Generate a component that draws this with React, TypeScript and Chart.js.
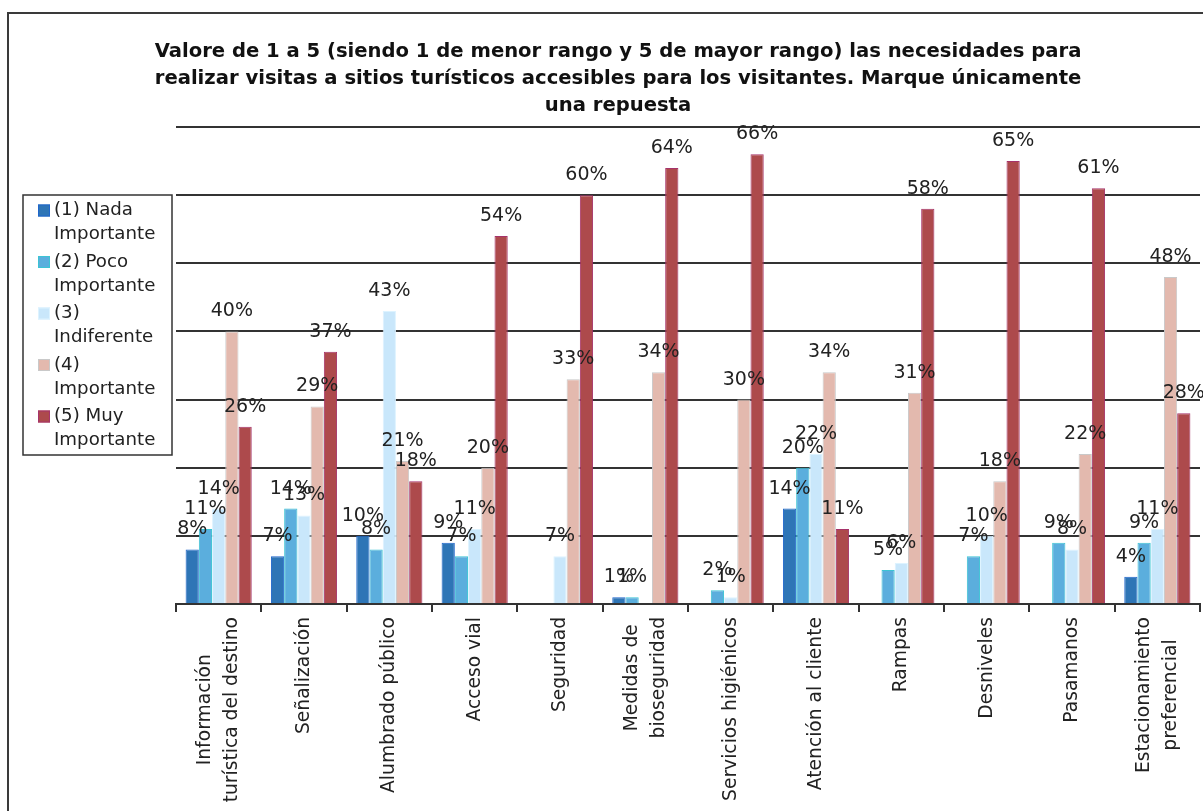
import { useEffect, useRef } from "react";
import { Chart, registerables } from "chart.js";

Chart.register(...registerables);

const titleLines = [
  "Valore de 1 a 5 (siendo 1 de menor rango y 5 de mayor rango) las necesidades para",
  "realizar visitas a sitios turísticos accesibles para los visitantes. Marque únicamente",
  "una repuesta",
];

const categories: string[][] = [
  ["Información", "turística del destino"],
  ["Señalización"],
  ["Alumbrado público"],
  ["Acceso vial"],
  ["Seguridad"],
  ["Medidas de", "bioseguridad"],
  ["Servicios higiénicos"],
  ["Atención al cliente"],
  ["Rampas"],
  ["Desniveles"],
  ["Pasamanos"],
  ["Estacionamiento", "preferencial"],
];

const seriesNames = [
  "(1) Nada Importante",
  "(2) Poco Importante",
  "(3) Indiferente",
  "(4) Importante",
  "(5) Muy Importante",
];
const legendLines = [
  ["(1) Nada", "Importante"],
  ["(2) Poco", "Importante"],
  ["(3)", "Indiferente"],
  ["(4)", "Importante"],
  ["(5) Muy", "Importante"],
];

const nadaImportante = [8, 7, 10, 9, null, 1, null, 14, null, null, null, 4];
const pocoImportante = [11, 14, 8, 7, null, 1, 2, 20, 5, 7, 9, 9];
const indiferente = [14, 13, 43, 11, 7, null, 1, 22, 6, 10, 8, 11];
const importante = [40, 29, 21, 20, 33, 34, 30, 34, 31, 18, 22, 48];
const muyImportante = [26, 37, 18, 54, 60, 64, 66, 11, 58, 65, 61, 28];

const yTicks = [0, 10, 20, 30, 40, 50, 60, 70];

const fills = ["#2E75B6", "#5BAEDD", "#C9E7FB", "#E3B9AE", "#AD4A4C"];
const borders = ["#1F66CC", "#3CC4D4", "#DDF3FF", "#C9C9C9", "#A6336A"];

const seriesValues = [nadaImportante, pocoImportante, indiferente, importante, muyImportante];

const FONT = '"DejaVu Sans", sans-serif';
const TEXT = "#222";

const framePlugin = {
  id: "frame",
  beforeDraw(chart: any) {
    const ctx = chart.ctx;
    ctx.save();
    ctx.fillStyle = "#fff";
    ctx.fillRect(0, 0, chart.width, chart.height);
    ctx.strokeStyle = "#3a3a3a";
    ctx.lineWidth = 2;
    ctx.strokeRect(1, 1, chart.width + 10, chart.height + 10);
    ctx.restore();
  },
};

const legendBoxPlugin = {
  id: "legendBox",
  afterDraw(chart: any) {
    const ctx = chart.ctx;
    ctx.save();
    ctx.strokeStyle = "#333";
    ctx.lineWidth = 1.5;
    ctx.strokeRect(16, 183, 149, 260);
    ctx.font = `18.2px ${FONT}`;
    ctx.textBaseline = "middle";
    ctx.textAlign = "left";
    legendLines.forEach((lines, k) => {
      const y0 = 198.5 + k * 51.5;
      ctx.fillStyle = fills[k];
      ctx.fillRect(31, y0 - 6, 12, 12);
      ctx.strokeStyle = borders[k];
      ctx.lineWidth = 1;
      ctx.strokeRect(31.5, y0 - 5.5, 11, 11);
      ctx.fillStyle = TEXT;
      lines.forEach((t, j) => ctx.fillText(t, 47, y0 + j * 24));
    });
    ctx.restore();
  },
};

const dataLabelPlugin = {
  id: "dataLabels",
  afterDatasetsDraw(chart: any) {
    const ctx = chart.ctx;
    ctx.save();
    ctx.font = `19px ${FONT}`;
    ctx.fillStyle = TEXT;
    ctx.textAlign = "center";
    ctx.textBaseline = "middle";
    chart.data.datasets.forEach((ds: any, d: number) => {
      const meta = chart.getDatasetMeta(d);
      meta.data.forEach((el: any, i: number) => {
        const v = ds.data[i];
        if (v === null || v === undefined) return;
        ctx.fillText(`${v}%`, el.x, el.y - 20);
      });
    });
    ctx.restore();
  },
};

const xLabelPlugin = {
  id: "xLabels",
  afterDraw(chart: any) {
    const ctx = chart.ctx;
    const xs = chart.scales.x;
    const anchor = xs.top + 13;
    const lh = 27;
    ctx.save();
    ctx.font = `18.7px ${FONT}`;
    ctx.fillStyle = TEXT;
    ctx.textAlign = "center";
    ctx.textBaseline = "middle";
    categories.forEach((lines, i) => {
      const px = xs.getPixelForTick(i);
      const w = Math.max(...lines.map((t) => ctx.measureText(t).width));
      const n = lines.length;
      lines.forEach((t, j) => {
        ctx.save();
        ctx.translate(px + (j - (n - 1) / 2) * lh, anchor + w / 2);
        ctx.rotate(-Math.PI / 2);
        ctx.fillText(t, 0, 0);
        ctx.restore();
      });
    });
    ctx.restore();
  },
};

export default function App() {
  const ref = useRef<HTMLCanvasElement>(null);
  useEffect(() => {
    const H = 850;
    const plotBottom = 592;
    const chart = new Chart(ref.current as HTMLCanvasElement, {
      type: "bar",
      data: {
        labels: categories.map((c) => c.join(" ")),
        datasets: seriesNames.map((name, k) => ({
          label: name,
          data: seriesValues[k] as any,
          backgroundColor: fills[k],
          borderColor: borders[k],
          borderWidth: 1,
          categoryPercentage: 0.775,
          barPercentage: 1,
        })),
      },
      options: {
        responsive: false,
        animation: false,
        devicePixelRatio: 1,
        layout: { padding: { left: 29, right: 29, top: 0, bottom: 0 } },
        plugins: {
          legend: { display: false },
          tooltip: { enabled: false },
          title: {
            display: true,
            text: titleLines,
            font: { family: FONT, size: 19.6, weight: "bold", lineHeight: 27 / 19.6 },
            color: "#111",
            padding: { top: 26.5, bottom: 7.5 },
          },
        },
        scales: {
          x: {
            offset: true,
            ticks: { display: false, autoSkip: false },
            grid: {
              display: true,
              drawOnChartArea: false,
              drawTicks: true,
              tickLength: 8,
              color: "#333",
              lineWidth: 2,
              offset: true,
            },
            border: { display: true, color: "#333", width: 2 },
            afterFit: (scale: any) => {
              scale.height = H - plotBottom;
            },
          },
          y: {
            min: 0,
            max: 70,
            afterBuildTicks: (scale: any) => {
              scale.ticks = yTicks.map((v) => ({ value: v }));
            },
            ticks: { display: false },
            grid: { color: "#333", lineWidth: 2, drawTicks: false },
            border: { display: false },
            afterFit: (scale: any) => {
              scale.width = 140;
            },
          },
        },
      },
      plugins: [framePlugin, dataLabelPlugin, xLabelPlugin, legendBoxPlugin],
    });
    return () => chart.destroy();
  }, []);

  return (
    <div
      style={{
        position: "fixed",
        left: 0,
        top: 0,
        width: 1203,
        height: 811,
        overflow: "hidden",
        background: "#fff",
      }}
    >
      <div style={{ position: "absolute", left: 7, top: 12, width: 1222, height: 850 }}>
        <canvas ref={ref} width={1222} height={850} style={{ display: "block", width: 1222, height: 850 }} />
      </div>
    </div>
  );
}
